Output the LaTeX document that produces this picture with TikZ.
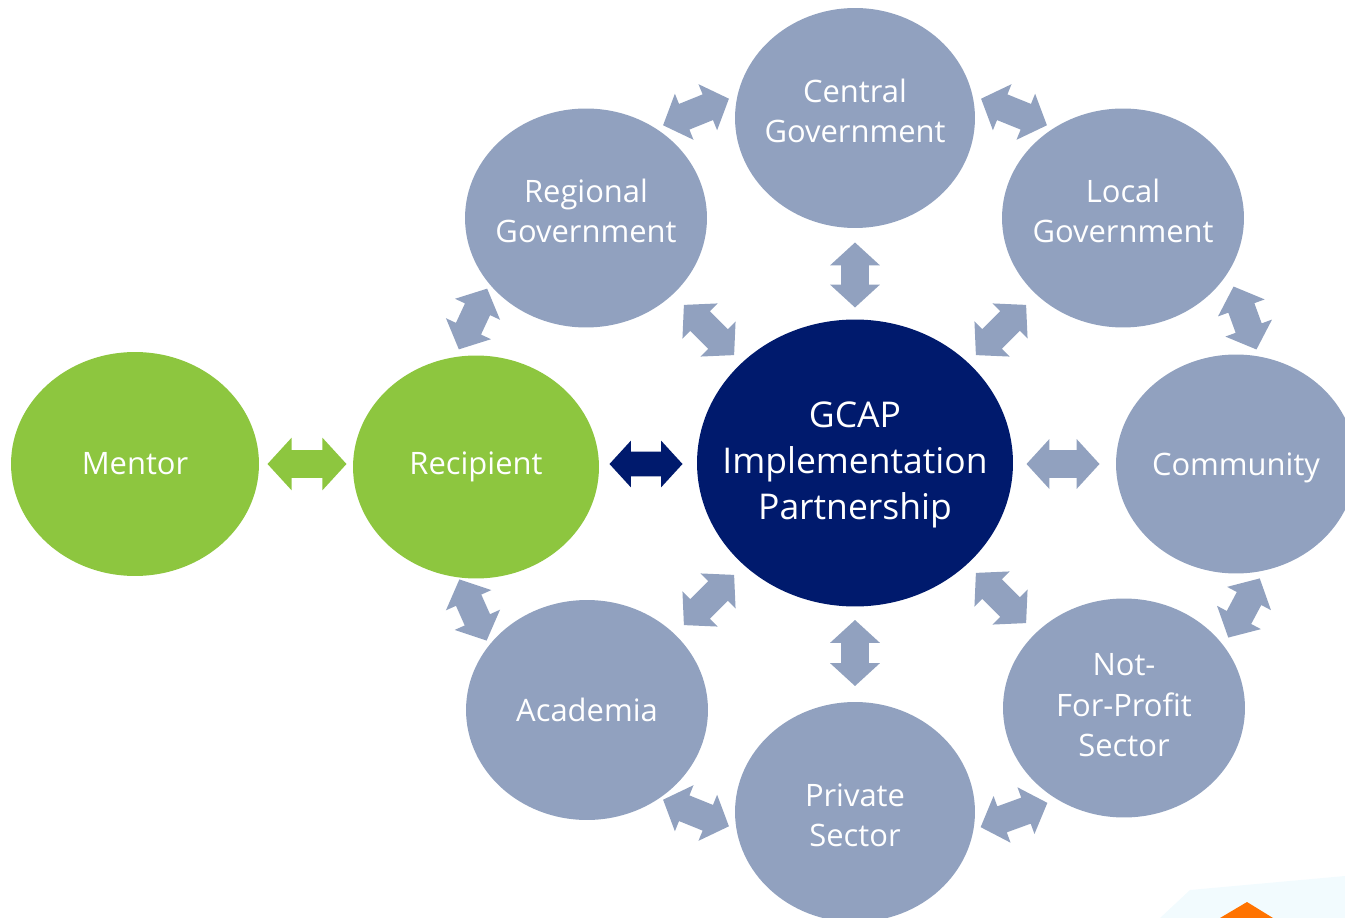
\documentclass[tikz,border=0pt]{standalone}
\usepackage{fontspec}
\setmainfont{Open Sans}
\usetikzlibrary{shapes.geometric, shapes.arrows}
\definecolor{hubblue}{RGB}{0,26,109}
\definecolor{partgray}{RGB}{145,161,191}
\definecolor{leafgreen}{RGB}{141,198,63}
\tikzstyle{party} = [ellipse, fill=partgray, text=white, align=center, inner sep=0pt, inner xsep=-0.6cm, minimum width=4.84cm, minimum height=4.38cm, font=\fontsize{17.6}{22.8}\selectfont]
\tikzstyle{lifted} = [text depth=0.28cm]
\tikzstyle{link} = [double arrow, fill=partgray, inner xsep=0pt, inner ysep=0.27cm, minimum height=1.42cm, double arrow head extend=0.22cm, double arrow tip angle=95]

\begin{document}
\begin{tikzpicture}[x=0.02cm, y=-0.02cm]
\useasboundingbox (0,0) rectangle (1345,918);
\clip (0,0) rectangle (1345,918);

\fill[cyan!5] (1190,890) -- (1345,876) -- (1345,918) -- (1160,918) -- cycle;
\fill[orange!90!red] (1220,918) -- (1247,902) -- (1273,918) -- cycle;

\node[party, fill=leafgreen, minimum width=4.96cm, minimum height=4.48cm] (mentor) at (135,464) {Mentor};
\node[party, fill=leafgreen, minimum width=4.92cm, minimum height=4.46cm] (recipient) at (476,467) {Recipient};
\node[party, fill=hubblue, minimum width=6.32cm, minimum height=5.74cm, inner xsep=-0.8cm, text depth=0.1cm, font=\fontsize{20.2}{26.2}\selectfont] (gcap) at (855,463) {GCAP\\Implementation\\Partnership};
\node[party, lifted, minimum width=4.8cm, minimum height=4.4cm] (central) at (855,118) {Central\\Government};
\node[party, lifted] (regional) at (586,218) {Regional\\Government};
\node[party, lifted] (local) at (1123,218) {Local\\Government};
\node[party, minimum width=4.8cm, text height=0.6cm] (community) at (1236,464) {Community};
\node[party, minimum height=4.4cm] (academia) at (587,710) {Academia};
\node[party, minimum width=4.8cm, minimum height=4.4cm, text height=1.37cm] (private) at (855,812) {Private\\Sector};
\node[party, text depth=0.12cm] (nonprofit) at (1124,708) {Not-\\For-Profit\\Sector};

\node[link, fill=leafgreen, minimum height=1.58cm, double arrow head extend=0.25cm] (mentor-recipient) at (307,464) {};
\node[link, fill=hubblue, minimum height=1.46cm, inner ysep=0.24cm] (recipient-gcap) at (646,464) {};
\node[link, minimum height=1.46cm] (gcap-community) at (1063,464) {};
\node[link, minimum height=1.3cm, rotate=90] (central-gcap) at (855,275) {};
\node[link, minimum height=1.32cm, rotate=90] (gcap-private) at (855,653) {};
\node[link, rotate=-45] (regional-gcap) at (709,330) {};
\node[link, rotate=45] (local-gcap) at (1001,330) {};
\node[link, rotate=45] (academia-gcap) at (709,600) {};
\node[link, rotate=-45] (nonprofit-gcap) at (1001,598) {};
\node[link, rotate=22] (regional-central) at (696,112) {};
\node[link, rotate=-22] (central-local) at (1014,112) {};
\node[link, minimum height=1.34cm, rotate=-70] (local-community) at (1245,318) {};
\node[link, minimum height=1.34cm, rotate=62] (community-nonprofit) at (1244,608) {};
\node[link, rotate=20] (private-nonprofit) at (1014,815) {};
\node[link, rotate=-22] (academia-private) at (696,813) {};
\node[link, minimum height=1.34cm, rotate=-66] (recipient-academia) at (473,610) {};
\node[link, minimum height=1.34cm, rotate=65] (recipient-regional) at (473,319) {};
\end{tikzpicture}
\end{document}
